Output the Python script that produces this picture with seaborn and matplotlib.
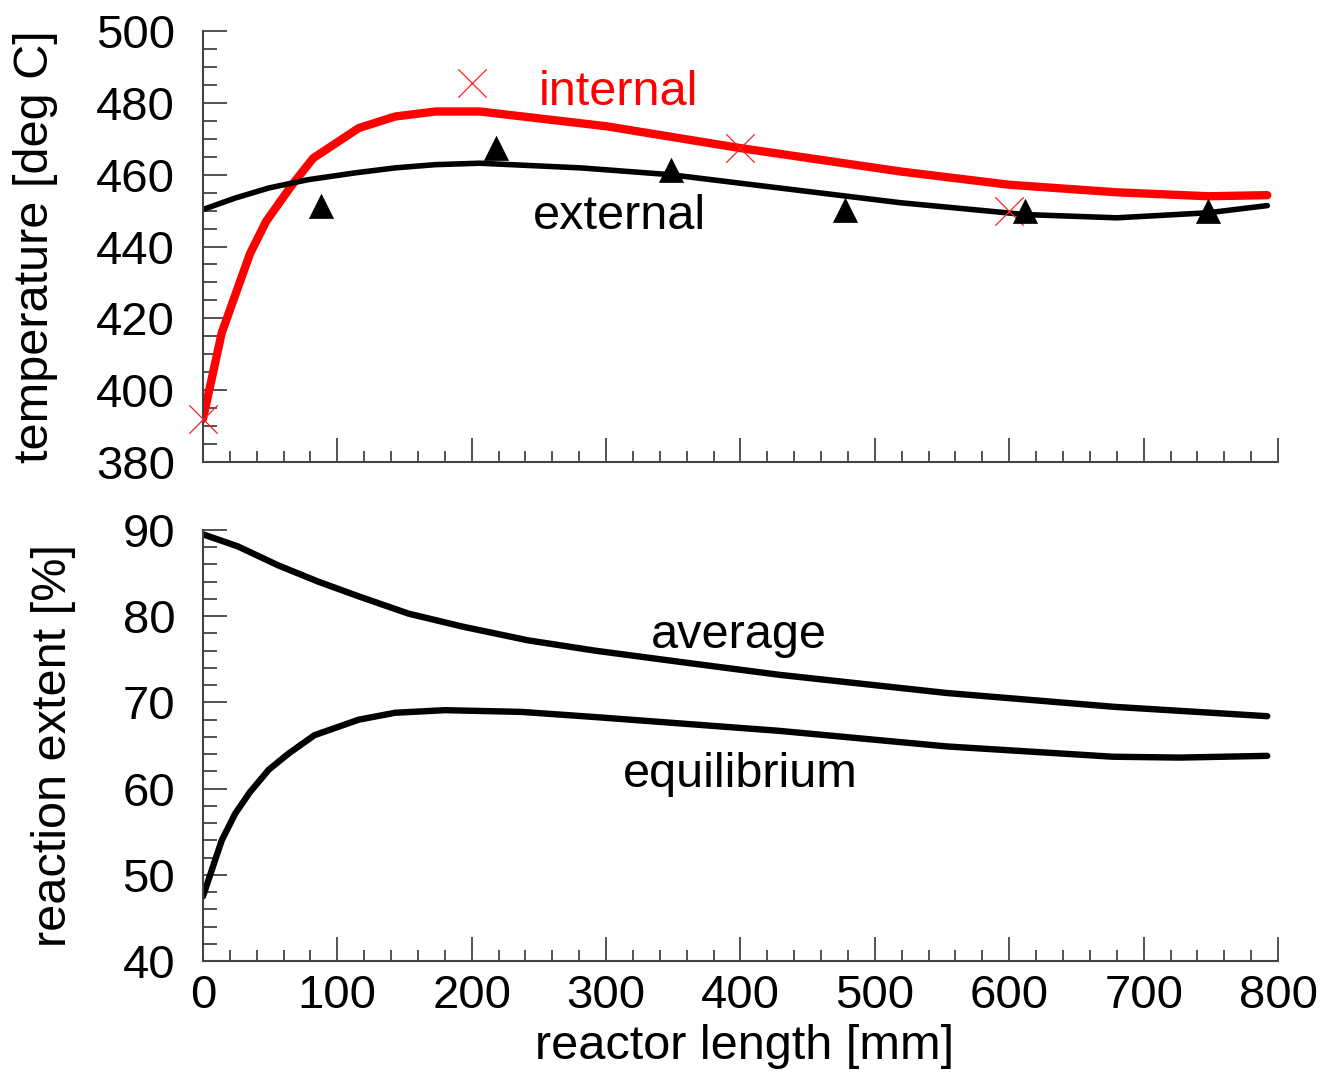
import matplotlib
matplotlib.use("Agg")
import matplotlib.pyplot as plt
import seaborn as sns
from matplotlib.ticker import MultipleLocator

# ---- data ----
# top panel: temperature along the reactor
x_int = [0, 14, 35, 47, 66, 82, 116, 143, 173, 206, 300, 400, 519, 600, 680, 748, 792]
t_int = [392, 416, 438, 447, 457, 464.6, 473, 476.2, 477.6, 477.6, 473.5, 467.4, 460.9, 457.2, 455.1, 454, 454.3]

x_ext = [0, 24, 49, 78, 113, 143, 173, 206, 281, 348, 429, 519, 612, 680, 748, 792]
t_ext = [450.3, 453.5, 456.3, 458.6, 460.5, 461.9, 462.8, 463.2, 461.9, 460, 456.3, 452.2, 448.9, 448, 449.4, 451.4]

# measured points
x_int_meas = [0, 200, 400, 600]
t_int_meas = [392, 485.5, 467.5, 450]
x_ext_meas = [88, 218, 348, 478, 612, 748]
t_ext_meas = [451.2, 467.4, 461.4, 450.3, 449.8, 449.8]

# bottom panel: reaction extent
x_avg = [0, 26, 56, 86, 116, 153, 193, 242, 292, 360, 429, 553, 677, 792]
r_avg = [89.5, 88.1, 85.9, 84.0, 82.3, 80.3, 78.8, 77.2, 76.0, 74.6, 73.2, 71.1, 69.5, 68.4]

x_eq = [0, 14, 24, 35, 49, 64, 83, 116, 143, 180, 237, 292, 429, 553, 677, 727, 792]
r_eq = [47.5, 54.0, 57.1, 59.6, 62.2, 64.1, 66.2, 68.0, 68.8, 69.1, 68.9, 68.3, 66.7, 64.9, 63.7, 63.6, 63.8]

sns.set_style("ticks")
plt.rcParams['font.family'] = ['Liberation Sans', 'DejaVu Sans']

fig = plt.figure(figsize=(13.23, 10.74), dpi=100)
ax1 = fig.add_axes([0.1534, 0.5698, 0.8126, 0.4013])
ax2 = fig.add_axes([0.1534, 0.1052, 0.8126, 0.4013], sharex=ax1)

spine_col = '#444444'
fs_lab = 35
fs_tick = 34

# top
sns.lineplot(x=x_int, y=t_int, ax=ax1, color='#ff0000', linewidth=6)
sns.lineplot(x=x_ext, y=t_ext, ax=ax1, color='black', linewidth=4)
sns.scatterplot(x=x_int_meas, y=t_int_meas, ax=ax1, marker='x', s=420,
                color='#ff2020', linewidth=0.9, clip_on=False, zorder=5)
sns.scatterplot(x=x_ext_meas, y=t_ext_meas, ax=ax1, marker='^', s=300,
                color='black', edgecolor='black', linewidth=0.5, zorder=5)
ax1.text(309, 482.8, "internal", color='#ff0000', fontsize=fs_lab, ha='center', va='center')
ax1.text(310, 448.3, "external", color='black', fontsize=fs_lab, ha='center', va='center')

ax1.set_ylim(380, 500)
ax1.yaxis.set_major_locator(MultipleLocator(20))
ax1.yaxis.set_minor_locator(MultipleLocator(5))
ax1.set_ylabel("temperature [deg C]", fontsize=fs_lab, color='black')
ax1.yaxis.set_label_coords(-0.135, 0.5)
ax1.tick_params(axis='x', labelbottom=False)

# bottom
sns.lineplot(x=x_avg, y=r_avg, ax=ax2, color='black', linewidth=4.6)
sns.lineplot(x=x_eq, y=r_eq, ax=ax2, color='black', linewidth=4.6)
ax2.text(399, 77.8, "average", color='black', fontsize=fs_lab, ha='center', va='center')
ax2.text(400, 61.6, "equilibrium", color='black', fontsize=fs_lab, ha='center', va='center')

ax2.set_ylim(40, 90)
ax2.yaxis.set_major_locator(MultipleLocator(10))
ax2.yaxis.set_minor_locator(MultipleLocator(2))
ax2.set_ylabel("reaction extent [%]", fontsize=fs_lab, color='black')
ax2.yaxis.set_label_coords(-0.118, 0.5)
ax2.set_xlabel("reactor length [mm]", fontsize=fs_lab, color='black')
ax2.xaxis.set_label_coords(0.504, -0.145)

ax2.set_xlim(0, 800)
ax2.xaxis.set_major_locator(MultipleLocator(100))
ax2.xaxis.set_minor_locator(MultipleLocator(20))

for ax in (ax1, ax2):
    sns.despine(ax=ax)
    for side in ('left', 'bottom'):
        ax.spines[side].set_color(spine_col)
        ax.spines[side].set_linewidth(1.5)
    ax.tick_params(axis='both', which='major', direction='in', length=17, width=1.3,
                   color=spine_col, labelsize=fs_tick, labelcolor='black')
    ax.tick_params(axis='x', which='minor', direction='in', length=8, width=1.3, color=spine_col)
    ax.tick_params(axis='y', which='minor', direction='in', length=10, width=1.3, color=spine_col)
    ax.tick_params(axis='y', which='major', pad=20)
    ax.tick_params(axis='x', which='major', pad=9)
    ax.set_facecolor('white')

fig.savefig("out.png", dpi=100, facecolor='white')
